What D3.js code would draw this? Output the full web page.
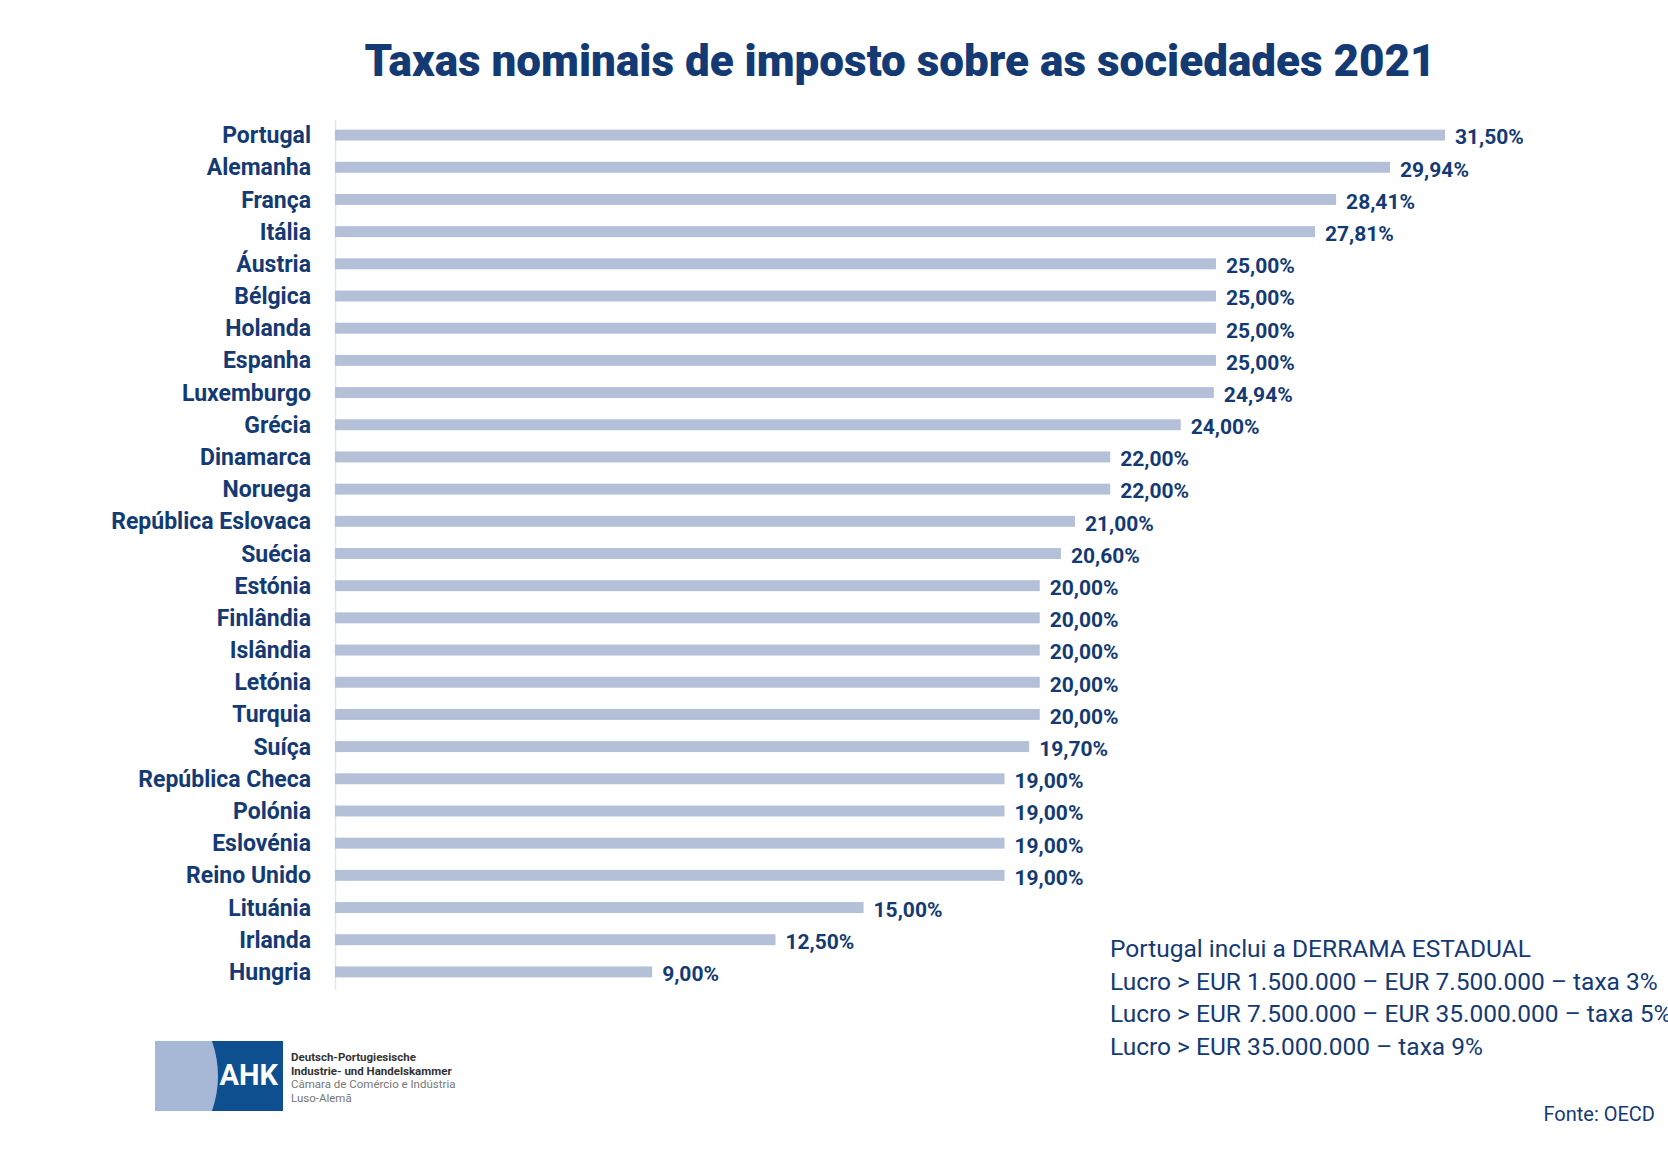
<!DOCTYPE html>
<html>
<head>
  <meta charset="utf-8">
  <script src="https://d3js.org/d3.v7.min.js"></script>
  <style>
    body { margin: 0; background: #fff; }
    text { font-family: Roboto, "Noto Sans", sans-serif; fill: #143a74; }
  </style>
</head>
<body>
  <svg width="1668" height="1156"></svg>
  <script>
    const countries = ["Portugal", "Alemanha", "França", "Itália", "Áustria", "Bélgica", "Holanda",
      "Espanha", "Luxemburgo", "Grécia", "Dinamarca", "Noruega", "República Eslovaca", "Suécia",
      "Estónia", "Finlândia", "Islândia", "Letónia", "Turquia", "Suíça", "República Checa",
      "Polónia", "Eslovénia", "Reino Unido", "Lituánia", "Irlanda", "Hungria"];
    const rates = [31.5, 29.94, 28.41, 27.81, 25, 25, 25, 25, 24.94, 24, 22, 22, 21, 20.6,
      20, 20, 20, 20, 20, 19.7, 19, 19, 19, 19, 15, 12.5, 9];
    const notes = ["Portugal inclui a DERRAMA ESTADUAL",
      "Lucro > EUR 1.500.000 – EUR 7.500.000 – taxa 3%",
      "Lucro > EUR 7.500.000 – EUR 35.000.000 – taxa 5%",
      "Lucro > EUR 35.000.000 – taxa 9%"];
    const logoLines = ["Deutsch-Portugiesische", "Industrie- und Handelskammer",
      "Câmara de Comércio e Indústria", "Luso-Alemã"];

    const svg = d3.select("svg");
    const x = d3.scaleLinear().domain([0, 31.5]).range([335, 1445]);
    const y = d3.scaleBand().domain(countries).range([119, 988]).paddingInner(0.66).paddingOuter(0.33);

    svg.append("text").attr("x", 900).attr("y", 76).attr("text-anchor", "middle")
      .style("font-size", "44px").style("font-weight", "900").text("Taxas nominais de imposto sobre as sociedades 2021");

    svg.append("line").attr("x1", 335.5).attr("x2", 335.5).attr("y1", 120).attr("y2", 990)
      .attr("stroke", "#e3e6ea").attr("stroke-width", 1.5);

    const row = svg.selectAll(".row").data(countries).enter().append("g");
    row.append("rect").attr("x", x(0)).attr("y", d => y(d))
      .attr("width", (d, i) => x(rates[i]) - x(0)).attr("height", y.bandwidth())
      .attr("fill", "#b3c0d8");
    row.append("text").attr("x", 311).attr("y", d => y(d) + y.bandwidth() / 2).attr("dy", "0.35em")
      .attr("text-anchor", "end").style("font-size", "23px").style("font-weight", "bold").text(d => d);
    row.append("text").attr("x", (d, i) => x(rates[i]) + 10).attr("y", d => y(d) + y.bandwidth() / 2 + 2)
      .attr("dy", "0.35em").style("font-size", "21px").style("font-weight", "bold")
      .text((d, i) => rates[i].toFixed(2).replace(".", ",") + "%");

    svg.selectAll(".note").data(notes).enter().append("text")
      .attr("x", 1110).attr("y", (d, i) => 957 + i * 32.5).style("font-size", "24.5px").text(d => d);
    svg.append("text").attr("x", 1655).attr("y", 1121).attr("text-anchor", "end")
      .style("font-size", "20px").text("Fonte: OECD");

    // logo
    const logo = svg.append("g");
    logo.append("rect").attr("x", 155).attr("y", 1041).attr("width", 128).attr("height", 70).attr("fill", "#a7b8d6");
    logo.append("path").attr("d", "M212,1041 H283 V1111 H212 Q224,1076 212,1041 Z").attr("fill", "#0d4f8f");
    logo.append("text").attr("x", 278).attr("y", 1085).attr("text-anchor", "end")
      .style("font-size", "29px").style("font-weight", "bold").style("fill", "#fff").text("AHK");
    logo.selectAll(".ll").data(logoLines).enter().append("text")
      .attr("x", 291).attr("y", (d, i) => 1061 + i * 13.5).style("font-size", "11.5px")
      .style("font-weight", (d, i) => i < 2 ? "bold" : "normal")
      .style("fill", (d, i) => i < 2 ? "#333" : "#777").text(d => d);
  </script>
</body>
</html>
